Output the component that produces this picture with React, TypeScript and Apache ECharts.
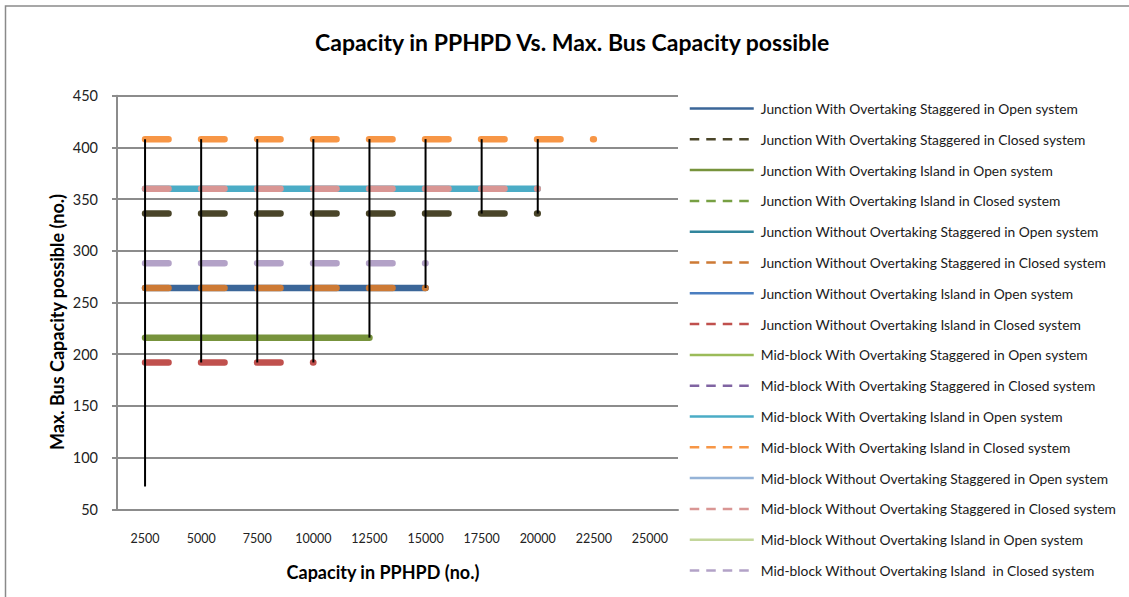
import React, { useEffect, useRef } from "react";
import * as echarts from "echarts";

const categories = ["2500", "5000", "7500", "10000", "12500", "15000", "17500", "20000", "22500", "25000"];

const seriesNames = [
  "Junction With Overtaking Staggered in Open system",
  "Junction With Overtaking Staggered in Closed system",
  "Junction With Overtaking Island in Open system",
  "Junction With Overtaking Island in Closed system",
  "Junction Without Overtaking Staggered in Open system",
  "Junction Without Overtaking Staggered in Closed system",
  "Junction Without Overtaking Island in Open system",
  "Junction Without Overtaking Island in Closed system",
  "Mid-block With Overtaking Staggered in Open system",
  "Mid-block With Overtaking Staggered in Closed system",
  "Mid-block With Overtaking Island in Open system",
  "Mid-block With Overtaking Island in Closed system",
  "Mid-block Without Overtaking Staggered in Open system",
  "Mid-block Without Overtaking Staggered in Closed system",
  "Mid-block Without Overtaking Island in Open system",
  "Mid-block Without Overtaking Island  in Closed system",
];

const seriesColors = [
  "#3B6698", "#4A4529", "#77933C", "#77A043", "#31859C", "#CD7A35", "#4A7EC0", "#C0504D",
  "#9BBB59", "#8064A2", "#4BACC6", "#F79646", "#95B3D7", "#D99694", "#C3D69B", "#B3A2C7",
];

const seriesDashed = [false, true, false, true, false, true, false, true, false, true, false, true, false, true, false, true];

const N = null;
const jWithStagOpen = [264, 264, 264, 264, 264, 264, N, N, N, N];
const jWithStagClosed = [336, 336, 336, 336, 336, 336, 336, 336, N, N];
const jWithIslOpen = [216, 216, 216, 216, 216, N, N, N, N, N];
const jWithIslClosed = [N, N, N, N, N, N, N, N, N, N];
const jWithoutStagOpen = [N, N, N, N, N, N, N, N, N, N];
const jWithoutStagClosed = [264, 264, 264, 264, 264, 264, N, N, N, N];
const jWithoutIslOpen = [72, N, N, N, N, N, N, N, N, N];
const jWithoutIslClosed = [192, 192, 192, 192, N, N, N, N, N, N];
const mWithStagOpen = [N, N, N, N, N, N, N, N, N, N];
const mWithStagClosed = [N, N, N, N, N, N, N, N, N, N];
const mWithIslOpen = [360, 360, 360, 360, 360, 360, 360, 360, N, N];
const mWithIslClosed = [408, 408, 408, 408, 408, 408, 408, 408, 408, N];
const mWithoutStagOpen = [N, N, N, N, N, N, N, N, N, N];
const mWithoutStagClosed = [360, 360, 360, 360, 360, 360, 360, 360, N, N];
const mWithoutIslOpen = [N, N, N, N, N, N, N, N, N, N];
const mWithoutIslClosed = [288, 288, 288, 288, 288, 288, N, N, N, N];

const seriesData = [
  jWithStagOpen, jWithStagClosed, jWithIslOpen, jWithIslClosed,
  jWithoutStagOpen, jWithoutStagClosed, jWithoutIslOpen, jWithoutIslClosed,
  mWithStagOpen, mWithStagClosed, mWithIslOpen, mWithIslClosed,
  mWithoutStagOpen, mWithoutStagClosed, mWithoutIslOpen, mWithoutIslClosed,
];

const yMin = 50;
const yMax = 450;
const yInterval = 50;

const FONT = "Lato";

export default function App() {
  const ref = useRef<HTMLDivElement>(null);
  useEffect(() => {
    document.body.style.margin = "0";
    if (!ref.current) return;
    const chart = echarts.init(ref.current, null, { renderer: "svg" });

    const gridLeft = 117;
    const gridTop = 95.7;
    const gridWidth = 561;
    const gridHeight = 413.6;
    const catW = gridWidth / categories.length;
    const lineW = 6.5;
    const dashLen = 23.5;
    const dash = [dashLen, catW - dashLen - 0.1];

    const hiLo: number[][] = [];
    categories.forEach((_, i) => {
      const vals = seriesData.map((a) => a[i]).filter((v) => v != null) as number[];
      if (vals.length >= 2) {
        const lo = Math.min(...vals);
        const hi = Math.max(...vals);
        if (hi > lo) hiLo.push([i, lo, hi]);
      }
    });

    const lineSeries = seriesNames.map((name, k) => ({
      name,
      type: "line",
      data: seriesData[k],
      showSymbol: false,
      symbol: "none",
      connectNulls: false,
      silent: true,
      color: seriesColors[k],
      lineStyle: {
        color: seriesColors[k],
        width: lineW,
        type: seriesDashed[k] ? dash : "solid",
        cap: "round",
        join: "round",
      },
      z: 2,
    }));

    const option: any = {
      animation: false,
      backgroundColor: "#ffffff",
      title: {
        text: "Capacity in PPHPD Vs. Max. Bus Capacity possible",
        left: 315,
        top: 30,
        padding: 0,
        textStyle: { fontFamily: FONT, fontWeight: "bold", fontSize: 23, color: "#000" },
      },
      grid: { left: gridLeft, top: gridTop, width: gridWidth, height: gridHeight, containLabel: false },
      legend: {
        orient: "vertical",
        left: 688.5,
        top: 101.5,
        padding: 0,
        itemWidth: 64,
        itemHeight: 14,
        itemGap: 16.8,
        selectedMode: false,
        data: seriesNames.map((name, k) => ({
          name,
          itemStyle: { opacity: 0, color: "transparent", borderWidth: 0 },
          lineStyle: {
            width: 2.5,
            type: seriesDashed[k] ? [9.5, 7] : "solid",
            cap: "butt",
            color: seriesColors[k],
            opacity: 1,
          },
        })),
        textStyle: { fontFamily: FONT, fontSize: 13.8, color: "#1a1a1a", lineHeight: 14, padding: [0, 0, 0, 2] },
      },
      xAxis: {
        type: "category",
        data: categories,
        boundaryGap: true,
        axisLine: { show: true, lineStyle: { color: "#8c8c8c", width: 2 } },
        axisTick: { show: false },
        axisLabel: { fontFamily: FONT, fontSize: 12.5, color: "#222", margin: 23, interval: 0 },
        splitLine: { show: false },
      },
      yAxis: {
        type: "value",
        min: yMin,
        max: yMax,
        interval: yInterval,
        axisLine: { show: true, lineStyle: { color: "#8c8c8c", width: 2 } },
        axisTick: { show: true, length: 5, lineStyle: { color: "#8c8c8c", width: 2 } },
        axisLabel: { fontFamily: FONT, fontSize: 14.5, color: "#222", margin: 19 },
        splitLine: { show: true, lineStyle: { color: "#8c8c8c", width: 2 } },
      },
      graphic: [
        {
          type: "rect",
          shape: { x: 5.5, y: 6, width: 1300, height: 800 },
          style: { fill: "none", stroke: "#8a8a8a", lineWidth: 1.5 },
          silent: true,
        },
        {
          type: "text",
          x: 57,
          y: 322,
          rotation: Math.PI / 2,
          style: {
            text: "Max. Bus Capacity possible (no.)",
            font: `bold 18px ${FONT}`,
            fill: "#000",
            align: "center",
            verticalAlign: "middle",
          },
        },
        {
          type: "text",
          x: 383,
          y: 572,
          style: {
            text: "Capacity in PPHPD (no.)",
            font: `bold 18px ${FONT}`,
            fill: "#000",
            align: "center",
            verticalAlign: "middle",
          },
        },
      ],
      series: [
        ...lineSeries,
        {
          name: "High-Low",
          type: "custom",
          data: hiLo,
          encode: { x: 0, y: [1, 2] },
          silent: true,
          z: 10,
          renderItem: (params: any, api: any) => {
            const a = api.coord([api.value(0), api.value(1)]);
            const b = api.coord([api.value(0), api.value(2)]);
            return {
              type: "line",
              shape: { x1: a[0], y1: a[1], x2: b[0], y2: b[1] },
              style: { stroke: "#000", lineWidth: 2 },
            };
          },
        },
      ],
    };

    chart.setOption(option);
    return () => chart.dispose();
  }, []);

  return <div ref={ref} style={{ width: 1129, height: 597, fontVariantLigatures: "none" }} />;
}
